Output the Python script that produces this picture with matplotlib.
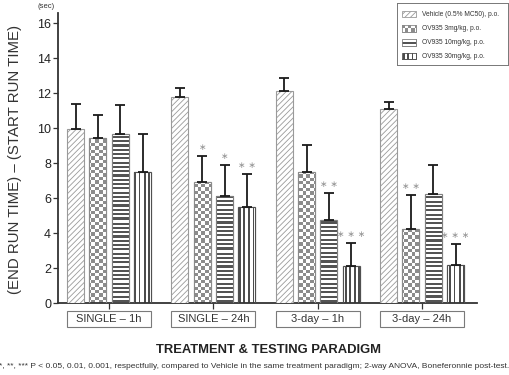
import numpy as np
import matplotlib
matplotlib.use("Agg")
import matplotlib.pyplot as plt
from matplotlib.patches import Rectangle

plt.rcParams['font.family'] = ['Liberation Sans', 'DejaVu Sans']
plt.rcParams['hatch.linewidth'] = 0.6

# ---------------- data ----------------
categories = ["SINGLE \u2013 1h", "SINGLE \u2013 24h", "3-day \u2013 1h", "3-day \u2013 24h"]
series = ["Vehicle (0.5% MC50), p.o.", "OV935 3mg/kg, p.o.",
          "OV935 10mg/kg, p.o.", "OV935 30mg/kg, p.o."]
vehicle = [9.95, 11.77, 12.15, 11.08]
dose3 = [9.44, 6.94, 7.48, 4.21]
dose10 = [9.69, 6.12, 4.75, 6.22]
dose30 = [7.48, 5.51, 2.12, 2.17]
vehicle_top = [11.40, 12.28, 12.84, 11.52]
dose3_top = [10.74, 8.43, 9.04, 6.18]
dose10_top = [11.35, 7.88, 6.31, 7.89]
dose30_top = [9.67, 7.36, 3.45, 3.36]
stars_vehicle = ["", "", "", ""]
stars_dose3 = ["", "*", "", "**"]
stars_dose10 = ["", "*", "**", ""]
stars_dose30 = ["", "**", "***", "***"]
yticks = [0, 2, 4, 6, 8, 10, 12, 14, 16]

means = [vehicle, dose3, dose10, dose30]
tops = [vehicle_top, dose3_top, dose10_top, dose30_top]
stars = [stars_vehicle, stars_dose3, stars_dose10, stars_dose30]
kinds = ["diag", "checker", "hstripe", "vstripe"]
edgecols = ["#9a9a9a", "#8a8a8a", "#808080", "#505050"]

W, H = 510, 375
fig = plt.figure(figsize=(W / 100, H / 100), dpi=100)
ax = fig.add_axes([58 / W, 1 - 303 / H, (477 - 58) / W, (303 - 12.7) / H])
XLIM = (-0.489, 3.527)
YLIM = (0, 16.6)
ax.set_xlim(*XLIM)
ax.set_ylim(*YLIM)

PAT_COL = {"checker": (0.55, 0.55, 0.55), "hstripe": (0.33, 0.33, 0.33),
           "vstripe": (0.30, 0.30, 0.30)}


def draw_pattern(a, patch, kind):
    (x0, y0) = patch.get_xy()
    x1 = x0 + patch.get_width()
    y1 = y0 + patch.get_height()
    d0 = a.transData.transform((x0, y0))
    d1 = a.transData.transform((x1, y1))
    px0, px1 = sorted([d0[0], d1[0]])
    py0, py1 = sorted([d0[1], d1[1]])
    w = max(1, int(round(px1 - px0)))
    h = max(1, int(round(py1 - py0)))
    xs = px0 + (np.arange(w) + 0.5) * (px1 - px0) / w
    ys = py1 - (np.arange(h) + 0.5) * (py1 - py0) / h
    X, Y = np.meshgrid(xs, ys)
    if kind == "checker":
        m = ((np.floor(X / 3.4) + np.floor(Y / 3.4)) % 2) == 0
    elif kind == "hstripe":
        m = (Y % 4.3) < 2.1
    else:
        m = (X % 4.2) < 1.8
    img = np.ones((h, w, 3))
    img[m] = PAT_COL[kind]
    inv = a.transData.inverted()
    top_d = inv.transform((px0, py1))[1]
    bot_d = inv.transform((px0, py0))[1]
    im = a.imshow(img, extent=(x0, x1, bot_d, top_d), origin="upper",
                  interpolation="nearest", aspect="auto", zorder=2)
    im.set_clip_path(patch)


xc = np.arange(len(categories))
bw = 0.163
step = 0.214
offsets = [(i - 1.5) * step for i in range(4)]

for i in range(4):
    xpos = xc + offsets[i]
    if kinds[i] == "diag":
        bars = ax.bar(xpos, means[i], bw, facecolor="white", edgecolor=edgecols[i],
                      hatch="//////", linewidth=0.8, zorder=3)
    else:
        bars = ax.bar(xpos, means[i], bw, facecolor="white", edgecolor=edgecols[i],
                      linewidth=0.8, zorder=1)
        for b in bars:
            draw_pattern(ax, b, kinds[i])
        ax.bar(xpos, means[i], bw, facecolor="none", edgecolor=edgecols[i],
               linewidth=0.8, zorder=3)
    up = np.array(tops[i]) - np.array(means[i])
    ax.errorbar(xpos, means[i], yerr=[np.zeros(4), up], fmt="none",
                ecolor="#1a1a1a", elinewidth=1.3, capsize=3.4, capthick=1.3, zorder=4)
    for j in range(4):
        s = stars[i][j]
        if s:
            ax.text(xpos[j], tops[i][j] + 0.22, " ".join(["\u2217"] * len(s)),
                    ha="center", va="bottom", fontsize=6.5, color="#939393",
                    fontfamily="DejaVu Sans", zorder=5)

ax.set_xlim(*XLIM)
ax.set_ylim(*YLIM)

for sp in ["top", "right"]:
    ax.spines[sp].set_visible(False)
for sp in ["left", "bottom"]:
    ax.spines[sp].set_linewidth(1.3)
    ax.spines[sp].set_color("#333333")

ax.set_yticks(yticks)
ax.tick_params(axis="y", direction="out", length=3.5, width=0.9, color="#333333",
               labelsize=9, pad=1.5, labelcolor="#222222")
ax.set_xticks(xc)
ax.set_xticklabels([])
ax.tick_params(axis="x", direction="out", length=4.5, width=0.9, color="#333333")

# category boxes
ppu = (303 - 12.7) / (YLIM[1] - YLIM[0])
ytop_box = -(311 - 303) / ppu
ybot_box = -(327 - 303) / ppu
for j, c in enumerate(categories):
    left = xc[j] + offsets[0] - bw / 2
    right = xc[j] + offsets[3] + bw / 2
    r = Rectangle((left, ybot_box), right - left, ytop_box - ybot_box,
                  facecolor="white", edgecolor="#7a7a7a", linewidth=0.8,
                  clip_on=False, transform=ax.transData)
    ax.add_patch(r)
    ax.text(xc[j], (ytop_box + ybot_box) / 2, c, ha="center", va="center",
            fontsize=8, color="#333333", clip_on=False)

# axis labels
fig.text(15 / W, 1 - 159 / H, "(END RUN TIME) \u2013 (START RUN TIME)", rotation=90,
         ha="center", va="center", fontsize=10.8, color="#333333")
fig.text(46 / W, 1 - 6 / H, "(sec)", ha="center", va="center", fontsize=5.5,
         color="#333333")
fig.text(268 / W, 1 - 350 / H, "TREATMENT & TESTING PARADIGM", ha="center",
         va="center", fontsize=9.4, fontweight="bold", color="#222222")
fig.text(254 / W, 1 - 367 / H,
         "*, **, *** P < 0.05, 0.01, 0.001, respectfully, compared to Vehicle in the same "
         "treatment paradigm; 2-way ANOVA, Boneferonnie post-test.",
         ha="center", va="center", fontsize=6.0, color="#333333")

# legend (custom box)
lx0, lx1, ly0, ly1 = 397, 508, 3, 65
lax = fig.add_axes([lx0 / W, 1 - ly1 / H, (lx1 - lx0) / W, (ly1 - ly0) / H])
lax.set_xlim(0, lx1 - lx0)
lax.set_ylim(ly1 - ly0, 0)
lax.set_xticks([])
lax.set_yticks([])
for sp in lax.spines.values():
    sp.set_linewidth(0.7)
    sp.set_color("#777777")
rows = [11, 25.5, 39.5, 53]
for i, yr in enumerate(rows):
    sw = Rectangle((5, yr - 3.3), 14, 6.6, facecolor="white", edgecolor=edgecols[i],
                   linewidth=0.6, zorder=3 if kinds[i] == "diag" else 1,
                   hatch="//////" if kinds[i] == "diag" else None)
    lax.add_patch(sw)
    if kinds[i] != "diag":
        draw_pattern(lax, sw, kinds[i])
        lax.add_patch(Rectangle((5, yr - 3.3), 14, 6.6, facecolor="none",
                                edgecolor=edgecols[i], linewidth=0.6, zorder=3))
    lax.text(25, yr, series[i], ha="left", va="center", fontsize=4.8, color="#333333")
lax.set_xlim(0, lx1 - lx0)
lax.set_ylim(ly1 - ly0, 0)

fig.savefig("out.png", dpi=100)
